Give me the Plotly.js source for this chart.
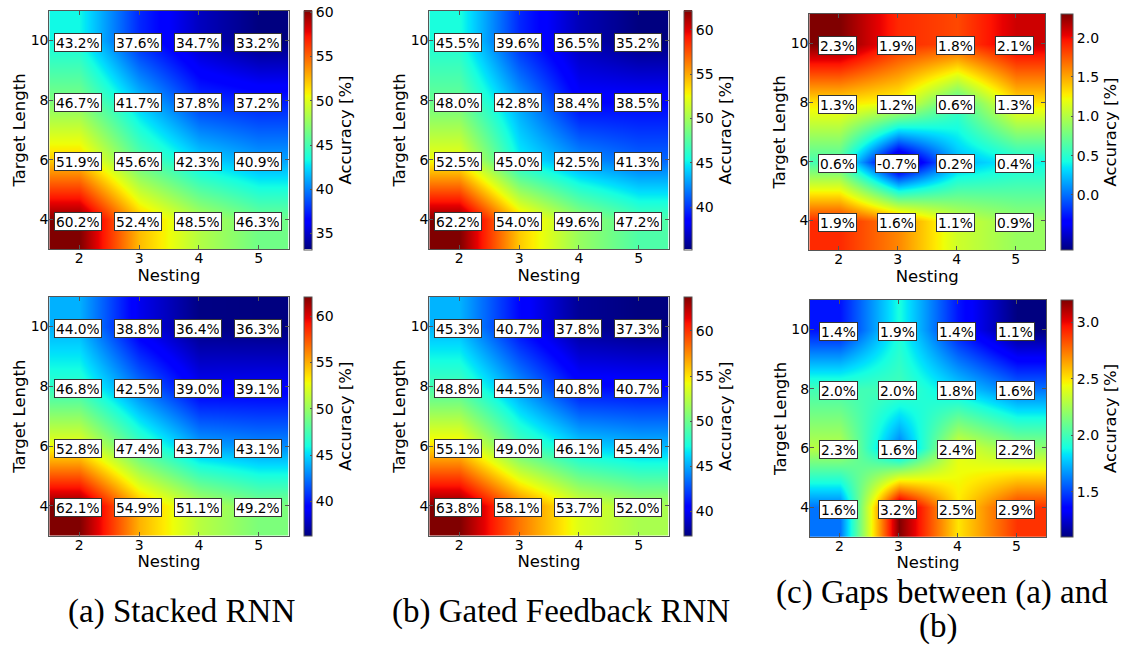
<!DOCTYPE html>
<html>
<head>
<meta charset="utf-8">
<script src="https://cdn.plot.ly/plotly-3.0.1.min.js"></script>
<style>html,body{margin:0;padding:0;background:#fff;}#chart{width:1124px;height:646px;}</style>
</head>
<body>
<div id="chart"></div>
<script>
// ---- data ----
const nesting = [2, 3, 4, 5];
const targetLength = [4, 6, 8, 10];
// rows follow targetLength (4, 6, 8, 10), columns follow nesting (2..5)
const stackedA = [
  [60.2, 52.4, 48.5, 46.3],
  [51.9, 45.6, 42.3, 40.9],
  [46.7, 41.7, 37.8, 37.2],
  [43.2, 37.6, 34.7, 33.2]
];
const gatedA = [
  [62.2, 54.0, 49.6, 47.2],
  [52.5, 45.0, 42.5, 41.3],
  [48.0, 42.8, 38.4, 38.5],
  [45.5, 39.6, 36.5, 35.2]
];
const gapA = [
  [1.9, 1.6, 1.1, 0.9],
  [0.6, -0.7, 0.2, 0.4],
  [1.3, 1.2, 0.6, 1.3],
  [2.3, 1.9, 1.8, 2.1]
];
const stackedB = [
  [62.1, 54.9, 51.1, 49.2],
  [52.8, 47.4, 43.7, 43.1],
  [46.8, 42.5, 39.0, 39.1],
  [44.0, 38.8, 36.4, 36.3]
];
const gatedB = [
  [63.8, 58.1, 53.7, 52.0],
  [55.1, 49.0, 46.1, 45.4],
  [48.8, 44.5, 40.8, 40.7],
  [45.3, 40.7, 37.8, 37.3]
];
const gapB = [
  [1.6, 3.2, 2.5, 2.9],
  [2.3, 1.6, 2.4, 2.2],
  [2.0, 2.0, 1.8, 1.6],
  [1.4, 1.9, 1.4, 1.1]
];
const accTicks = [35, 40, 45, 50, 55, 60];
const gapTicksA = [0.0, 0.5, 1.0, 1.5, 2.0];
const gapTicksB = [1.5, 2.0, 2.5, 3.0];
const captions = ["(a) Stacked RNN", "(b) Gated Feedback RNN", "(c) Gaps between (a) and", "(b)"];
const xTitle = "Nesting";
const yTitle = "Target Length";
const cbTitle = "Accuracy [%]";

// ---- style ----
const W = 1124, H = 646;
const jet = [
  [0.00, 'rgb(0,0,128)'], [0.11, 'rgb(0,0,255)'], [0.125, 'rgb(0,0,255)'],
  [0.34, 'rgb(0,219,255)'], [0.35, 'rgb(0,230,247)'], [0.375, 'rgb(21,255,226)'],
  [0.64, 'rgb(239,255,8)'], [0.65, 'rgb(247,245,0)'], [0.66, 'rgb(255,236,0)'],
  [0.89, 'rgb(255,19,0)'], [0.91, 'rgb(232,0,0)'], [1.00, 'rgb(128,0,0)']
];
const FONT = 'DejaVu Sans, sans-serif';
const TICK = 14, TITLE = 16.5, VAL = 13.75;

// panel pixel boxes: [left, right, top, bottom], colorbar left, thickness
const panels = [
  {z: stackedA, box: [49.3, 288.7, 10.7, 249.3], cb: 304, th: 8, ticks: accTicks, fmt: '.0f'},
  {z: gatedA,   box: [429.3, 668.7, 10.7, 249.3], cb: 684, th: 8, ticks: accTicks, fmt: '.0f'},
  {z: gapA,     box: [809.3, 1045.3, 14, 250], cb: 1061, th: 12, ticks: gapTicksA, fmt: '.1f'},
  {z: stackedB, box: [49.3, 288.7, 296.7, 535.7], cb: 304, th: 8, ticks: accTicks, fmt: '.0f'},
  {z: gatedB,   box: [429.3, 668.7, 296.7, 535.7], cb: 684, th: 8, ticks: accTicks, fmt: '.0f'},
  {z: gapB,     box: [810, 1046, 300, 536.7], cb: 1061, th: 12, ticks: gapTicksB, fmt: '.1f'}
];

const data = [];
const layout = {
  width: W, height: H,
  margin: {l: 0, r: 0, t: 0, b: 0},
  paper_bgcolor: '#fff', plot_bgcolor: '#fff',
  font: {family: FONT, color: '#000', size: TICK},
  showlegend: false,
  annotations: []
};

panels.forEach((p, i) => {
  const n = i + 1;
  const xa = 'xaxis' + (n === 1 ? '' : n);
  const ya = 'yaxis' + (n === 1 ? '' : n);
  const xr = 'x' + (n === 1 ? '' : n);
  const yr = 'y' + (n === 1 ? '' : n);
  const [L, R, T, B] = p.box;
  data.push({
    type: 'heatmap',
    x: nesting, y: targetLength, z: p.z,
    xaxis: xr, yaxis: yr,
    colorscale: jet, zsmooth: 'best',
    hoverinfo: 'skip',
    colorbar: {
      x: p.cb / W, xanchor: 'left', xref: 'paper',
      y: 1 - (T + B) / 2 / H, yanchor: 'middle',
      len: B - T, lenmode: 'pixels',
      thickness: p.th, thicknessmode: 'pixels',
      xpad: 0, ypad: 0,
      outlinewidth: 1, outlinecolor: '#555',
      ticks: 'inside', ticklen: 2, tickcolor: '#555',
      tickmode: 'array', tickvals: p.ticks, tickformat: p.fmt,
      tickfont: {family: FONT, size: TICK, color: '#000'},
      title: {text: cbTitle, side: 'right', font: {family: FONT, size: TITLE, color: '#000'}}
    }
  });
  const axCommon = {
    showgrid: false, zeroline: false, showline: true, linecolor: '#555', linewidth: 1,
    mirror: 'ticks', ticks: 'inside', ticklen: 4, tickcolor: '#555',
    tickfont: {family: FONT, size: TICK, color: '#000'},
    fixedrange: true
  };
  layout[xa] = Object.assign({}, axCommon, {
    domain: [L / W, R / W], anchor: yr,
    range: [1.5, 5.5], tickvals: nesting, ticktext: nesting.map(String),
    ticklabelstandoff: -4,
    title: {text: xTitle, standoff: 0, font: {family: FONT, size: TITLE, color: '#000'}}
  });
  layout[ya] = Object.assign({}, axCommon, {
    domain: [1 - B / H, 1 - T / H], anchor: xr,
    range: [3, 11], tickvals: targetLength, ticktext: targetLength.map(String),
    ticklabelstandoff: -3,
    title: {text: yTitle, standoff: 0, font: {family: FONT, size: TITLE, color: '#000'}}
  });
  // value boxes
  p.z.forEach((row, r) => {
    row.forEach((v, c) => {
      layout.annotations.push({
        xref: xr, yref: yr, x: nesting[c], y: targetLength[r],
        text: v.toFixed(1) + '%', showarrow: false,
        font: {family: FONT, size: VAL, color: '#000'},
        bgcolor: '#fff', bordercolor: '#333', borderwidth: 1, borderpad: 1,
        height: 15, xshift: -1, yshift: -2
      });
    });
  });
});

// captions
const capFont = {family: 'Liberation Serif, serif', size: 33, color: '#000'};
const caps = [
  {t: captions[0], x: 181, y: 611},
  {t: captions[1], x: 561, y: 611},
  {t: captions[2], x: 942, y: 592},
  {t: captions[3], x: 938, y: 626}
];
caps.forEach(c => {
  layout.annotations.push({
    xref: 'paper', yref: 'paper', x: c.x / W, y: 1 - c.y / H,
    xanchor: 'center', yanchor: 'middle', text: c.t, showarrow: false, font: capFont
  });
});

Plotly.newPlot('chart', data, layout, {staticPlot: true, displayModeBar: false});
</script>
</body>
</html>
